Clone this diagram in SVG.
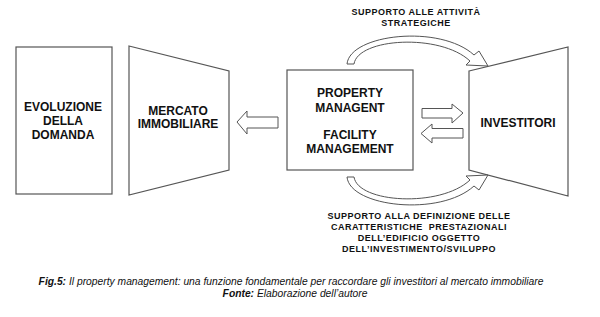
<svg xmlns="http://www.w3.org/2000/svg" width="600" height="317" viewBox="0 0 600 317">
<style>
.shape{fill:#fff;stroke:#555;stroke-width:1.2;stroke-linejoin:miter}
.arr{fill:#fff;stroke:#555;stroke-width:1;stroke-linejoin:miter}
.t{font-family:"Liberation Sans",Arial,sans-serif;font-weight:bold;font-size:12px;fill:#111;text-anchor:middle}
.s{font-family:"Liberation Sans",Arial,sans-serif;font-weight:bold;font-size:9px;letter-spacing:0.5px;fill:#111;text-anchor:middle;white-space:pre}
.c{font-family:"Liberation Sans",Arial,sans-serif;font-style:italic;font-size:10.3px;fill:#111;text-anchor:middle}
</style>
<rect width="600" height="317" fill="#fff"/>
<g id="evoluzione">
<rect class="shape" x="16" y="47" width="96" height="147"/>
<text class="t" x="63" y="111">EVOLUZIONE</text>
<text class="t" x="63" y="124.5">DELLA</text>
<text class="t" x="63" y="138.5">DOMANDA</text>
</g>
<g id="mercato">
<polygon class="shape" points="129,46 229,71 229,170 129,195"/>
<text class="t" x="178" y="114.5">MERCATO</text>
<text class="t" x="178" y="128">IMMOBILIARE</text>
</g>
<g id="management">
<rect class="shape" x="287" y="70" width="126" height="100"/>
<text class="t" x="350" y="96.5">PROPERTY</text>
<text class="t" x="350" y="111.5">MANAGENT</text>
<text class="t" x="350" y="138.5">FACILITY</text>
<text class="t" x="350" y="152.5">MANAGEMENT</text>
</g>
<g id="investitori">
<polygon class="shape" points="469,71 568,47 568,196 469,170"/>
<text class="t" x="518" y="126.5">INVESTITORI</text>
</g>
<g id="connectors">
<polygon class="arr" points="237,122 247,111 247,117 278,117 278,128 247,128 247,134"/>
<polygon class="arr" points="463,113 452,104 452,108.5 422,108.5 422,118 452,118 452,123"/>
<polygon class="arr" points="421,133.5 432,124 432,128.5 463,128.5 463,138 432,138 432,143"/>
<path class="arr" d="M347,64 C350,34 440,24 474,55 L479,51 L488,66 L466,65 L470,61 C440,33 358,38 354,64 Z"/>
<path class="arr" d="M347,177 C350,207 440,217 474,186 L479,190 L488,175 L466,176 L470,180 C440,208 358,203 354,177 Z"/>
</g>
<g id="labels">
<text class="s" x="416" y="15">SUPPORTO ALLE ATTIVITÀ</text>
<text class="s" x="416" y="26">STRATEGICHE</text>
<text class="s" x="419" y="218.5">SUPPORTO ALLA DEFINIZIONE DELLE</text>
<text class="s" x="419" y="229.8">CARATTERISTICHE  PRESTAZIONALI</text>
<text class="s" x="419" y="241">DELL’EDIFICIO OGGETTO</text>
<text class="s" x="419" y="252.3">DELL’INVESTIMENTO/SVILUPPO</text>
<text class="c" x="291" y="284.5"><tspan font-weight="bold">Fig.5:</tspan> Il property management: una funzione fondamentale per raccordare gli investitori al mercato immobiliare</text>
<text class="c" x="295" y="296.5"><tspan font-weight="bold">Fonte:</tspan> Elaborazione dell’autore</text>
</g>
</svg>
